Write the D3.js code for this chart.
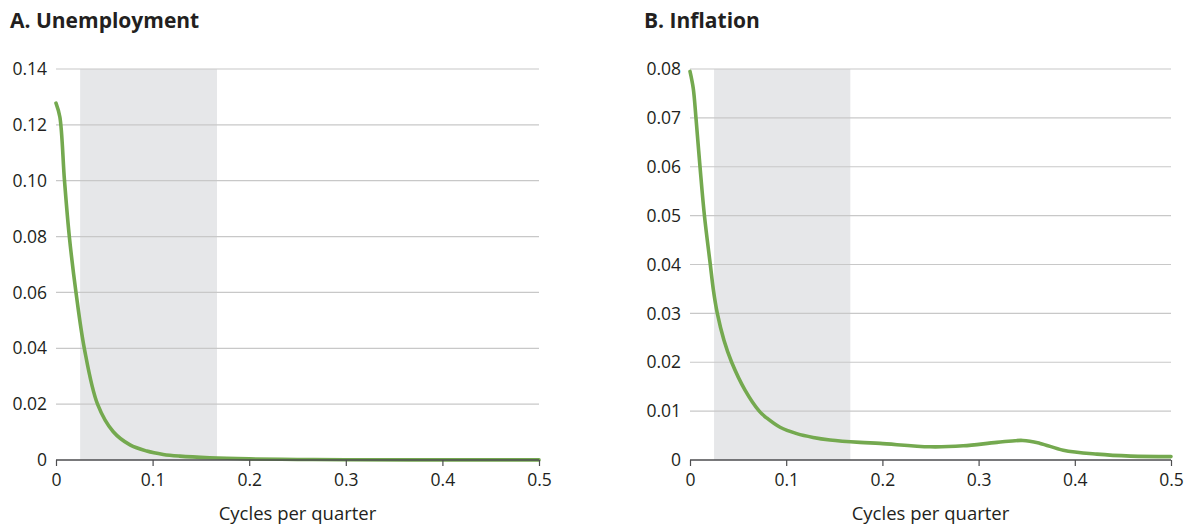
<!DOCTYPE html>
<html><head><meta charset="utf-8">
<script src="https://cdn.jsdelivr.net/npm/d3@7"></script>
<style>body{margin:0;background:#fff;} text{font-family:"Open Sans",sans-serif;}</style>
</head><body>
<svg id="c" width="1192" height="525"></svg>
<script>
// Data
const freqA = [0, 0.004, 0.0088, 0.0138, 0.0207, 0.0293, 0.043, 0.0593, 0.0766, 0.0939, 0.111, 0.128, 0.159, 0.2, 0.25, 0.3, 0.4, 0.5];
const valsA = [0.1278, 0.1228, 0.100, 0.080, 0.060, 0.040, 0.020, 0.0101, 0.0054, 0.0032, 0.0020, 0.0014, 0.0008, 0.0004, 0.0002, 0.0001, 0.00005, 0.00003];
const freqB = [0, 0.0034, 0.0062, 0.0104, 0.0150, 0.0211, 0.0243, 0.0284, 0.0353, 0.0433, 0.0572, 0.072, 0.0797, 0.0936, 0.111, 0.128, 0.1455, 0.1767, 0.1975, 0.2495, 0.284, 0.319, 0.346, 0.364, 0.388, 0.423, 0.458, 0.5];
const valsB = [0.0795, 0.076, 0.070, 0.060, 0.050, 0.040, 0.0348, 0.030, 0.0245, 0.020, 0.0143, 0.010, 0.0086, 0.0067, 0.0054, 0.00462, 0.0041, 0.0036, 0.0034, 0.0027, 0.0029, 0.0036, 0.0040, 0.0034, 0.0020, 0.0012, 0.0008, 0.0007];
const xTicks = [0, 0.1, 0.2, 0.3, 0.4, 0.5];
const yTicksA = [0, 0.02, 0.04, 0.06, 0.08, 0.10, 0.12, 0.14];
const yTicksB = [0, 0.01, 0.02, 0.03, 0.04, 0.05, 0.06, 0.07, 0.08];
const band = [1/40, 1/6];
const titles = ["A. Unemployment", "B. Inflation"];
const xLabel = "Cycles per quarter";

const svg = d3.select("#c");
const panels = [
  {title: titles[0], fx: freqA, vy: valsA, yt: yTicksA, ymax: 0.14, x0: 56, x1: 539, tx: 10},
  {title: titles[1], fx: freqB, vy: valsB, yt: yTicksB, ymax: 0.08, x0: 690, x1: 1171, tx: 644}
];
const yTop = 69, yBot = 460;
const yfmt = d => d === 0 ? "0" : d3.format(".2f")(d);

panels.forEach(p => {
  const x = d3.scaleLinear().domain([0, 0.5]).range([p.x0, p.x1]);
  const y = d3.scaleLinear().domain([0, p.ymax]).range([yBot, yTop]);
  const g = svg.append("g");
  g.append("text").attr("x", p.tx).attr("y", 28).attr("font-size", 21).attr("font-weight", 700)
    .attr("fill", "#231f20").text(p.title);
  g.append("rect").attr("x", x(band[0])).attr("y", y(p.ymax)).attr("width", x(band[1]) - x(band[0]))
    .attr("height", y(0) - y(p.ymax)).attr("fill", "#e6e7e9");
  g.selectAll(".grid").data(p.yt.filter(d => d > 0)).join("line")
    .attr("x1", p.x0).attr("x2", p.x1).attr("y1", d => y(d)).attr("y2", d => y(d))
    .attr("stroke", "#c8c8c8").attr("stroke-width", 1.2);
  g.selectAll(".yl").data(p.yt).join("text")
    .attr("x", p.x0 - 9).attr("y", d => y(d)).attr("dy", "0.35em").attr("text-anchor", "end")
    .attr("font-size", 17.5).attr("fill", "#231f20").text(yfmt);
  const line = d3.line().x((d, i) => x(p.fx[i])).y(d => y(d)).curve(d3.curveCatmullRom.alpha(0.5));
  g.append("path").attr("d", line(p.vy)).attr("fill", "none").attr("stroke", "#74a94f")
    .attr("stroke-width", 3.6).attr("stroke-linecap", "round").attr("stroke-linejoin", "round");
  const ax = g.append("g").attr("transform", `translate(0,${yBot})`)
    .call(d3.axisBottom(x).tickValues(xTicks).tickSize(6).tickPadding(8).tickFormat(d => d === 0 ? "0" : d3.format(".1f")(d)));
  ax.select(".domain").attr("stroke", "#4d4d4f").attr("stroke-width", 1.5).attr("d", `M${p.x0},0H${p.x1}`);
  ax.selectAll(".tick line").attr("stroke", "#4d4d4f").attr("stroke-width", 1.2);
  ax.selectAll(".tick text").attr("font-size", 17.5).attr("fill", "#231f20").attr("font-family", "Open Sans");
  g.append("text").attr("x", (p.x0 + p.x1) / 2).attr("y", 520).attr("text-anchor", "middle")
    .attr("font-size", 18.5).attr("fill", "#231f20").text(xLabel);
});
</script>
</body></html>
